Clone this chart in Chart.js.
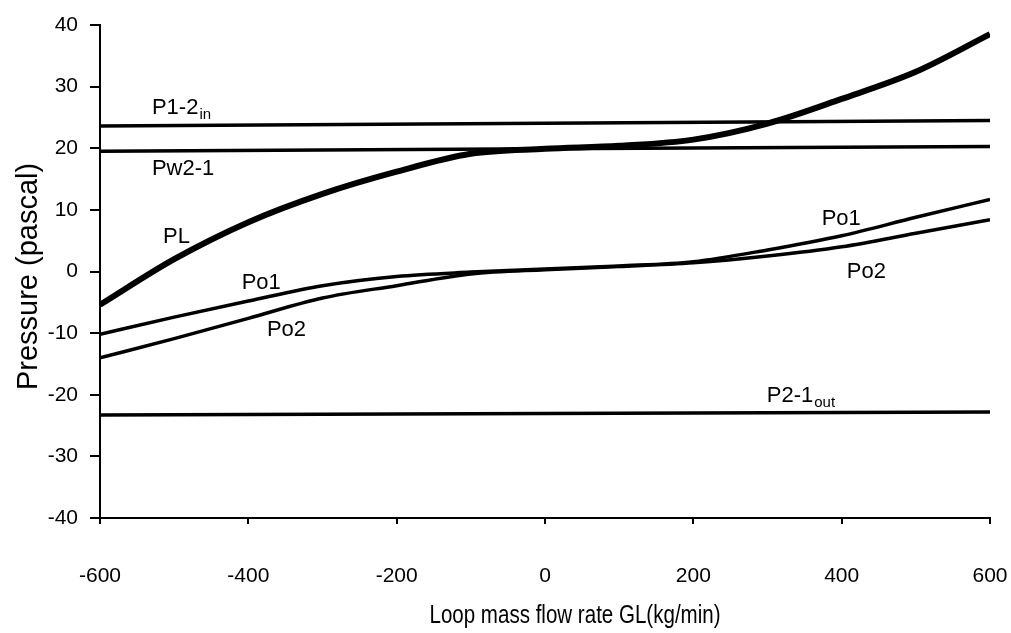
<!DOCTYPE html>
<html>
<head>
<meta charset="utf-8">
<script src="https://cdn.jsdelivr.net/npm/chart.js@4.4.1/dist/chart.umd.min.js"></script>
<style>
  html, body { margin: 0; padding: 0; background: #fff; }
  #wrap { width: 1011px; height: 633px; position: relative; }
</style>
</head>
<body>
<div id="wrap"><canvas id="c" width="1011" height="633"></canvas></div>
<script>
// Loop mass flow rate GL (kg/min)
const flowRate = [-600, -500, -400, -300, -200, -100, 0, 100, 200, 300, 400, 500, 600];

// Pressure (pascal) along the loop
const pL  = [-5.4, 2.0, 8.0, 12.6, 16.2, 19.1, 19.9, 20.4, 21.4, 24.0, 28.0, 32.4, 38.5];
const pO1 = [-10.2, -7.4, -4.8, -2.3, -0.8, -0.1, 0.4, 0.9, 1.6, 3.5, 5.8, 8.8, 11.7];
const pO2 = [-14.0, -10.9, -7.6, -4.3, -2.3, -0.4, 0.3, 0.8, 1.4, 2.5, 4.0, 6.2, 8.4];

// Near-constant pressures, given at both ends of the flow range
const flowEnds = [-600, 600];
const p12in  = [23.6, 24.5];
const pw21   = [19.5, 20.3];
const p21out = [-23.3, -22.8];

// Axis tick values
const xTicks = [-600, -400, -200, 0, 200, 400, 600];
const yTicks = [-40, -30, -20, -10, 0, 10, 20, 30, 40];

const FONT = '"Liberation Sans", Arial, sans-serif';

function pts(xs, ys) { return xs.map((x, i) => ({ x: x, y: ys[i] })); }

function line(label, xs, ys, width) {
  return {
    label: label,
    data: pts(xs, ys),
    borderColor: '#000',
    backgroundColor: '#000',
    borderWidth: width,
    pointRadius: 0,
    cubicInterpolationMode: 'monotone',
    fill: false
  };
}

// Curve names placed next to each curve: [main text, subscript, x, y]
const curveLabels = [
  ['P1-2', 'in', -530, 25.6],
  ['Pw2-1', '', -530, 15.7],
  ['PL', '', -515, 4.7],
  ['Po1', '', -409, -2.9],
  ['Po2', '', -375, -10.5],
  ['Po1', '', 373, 7.6],
  ['Po2', '', 407, -1.0],
  ['P2-1', 'out', 299, -21.1]
];

const labelPlugin = {
  id: 'curveLabels',
  afterDatasetsDraw(chart) {
    const ctx = chart.ctx;
    const xs = chart.scales.x, ys = chart.scales.y;
    ctx.save();
    ctx.fillStyle = '#000';
    ctx.textBaseline = 'alphabetic';
    ctx.textAlign = 'left';
    curveLabels.forEach(([txt, sub, x, y]) => {
      const px = xs.getPixelForValue(x), py = ys.getPixelForValue(y);
      ctx.font = '22px ' + FONT;
      ctx.fillText(txt, px, py);
      if (sub) {
        const w = ctx.measureText(txt).width;
        ctx.font = '15px ' + FONT;
        ctx.fillText(sub, px + w + 1, py + 5);
      }
    });

    // x axis title, set in a condensed face
    ctx.save();
    ctx.textAlign = 'center';
    ctx.translate(575, 622.5);
    ctx.scale(0.79, 1);
    ctx.font = '26px ' + FONT;
    ctx.fillText('Loop mass flow rate GL(kg/min)', 0, 0);
    ctx.restore();

    // y axis title, reading upwards
    ctx.save();
    ctx.textAlign = 'center';
    ctx.translate(36.5, 276.5);
    ctx.rotate(-Math.PI / 2);
    ctx.font = '29px ' + FONT;
    ctx.fillText('Pressure (pascal)', 0, 0);
    ctx.restore();

    ctx.restore();
  }
};

new Chart(document.getElementById('c'), {
  type: 'line',
  data: {
    datasets: [
      line('PL', flowRate, pL, 6),
      line('Po1', flowRate, pO1, 3.5),
      line('Po2', flowRate, pO2, 3.5),
      line('P1-2in', flowEnds, p12in, 3.5),
      line('Pw2-1', flowEnds, pw21, 3.5),
      line('P2-1out', flowEnds, p21out, 3.5)
    ]
  },
  options: {
    responsive: false,
    animation: false,
    devicePixelRatio: 1,
    layout: { padding: { top: 25, right: 21, left: 0, bottom: 0 } },
    plugins: {
      legend: { display: false },
      tooltip: { enabled: false }
    },
    scales: {
      x: {
        type: 'linear',
        min: -600,
        max: 600,
        afterBuildTicks(scale) { scale.ticks = xTicks.map(v => ({ value: v })); },
        afterFit(scale) {
          scale.height = 115;
          // the end labels fit inside the layout padding
          scale.paddingLeft = 0;
          scale.paddingRight = 0;
        },
        grid: {
          drawOnChartArea: false,
          drawTicks: true,
          tickLength: 6,
          color: '#000',
          lineWidth: 2
        },
        border: { display: true, color: '#000', width: 2 },
        ticks: {
          color: '#000',
          padding: 40,
          maxRotation: 0,
          font: { family: FONT, size: 21 }
        },
        title: { display: false }
      },
      y: {
        type: 'linear',
        min: -40,
        max: 40,
        afterBuildTicks(scale) { scale.ticks = yTicks.map(v => ({ value: v })); },
        afterFit(scale) {
          scale.width = 100;
          scale.paddingTop = 0;
          scale.paddingBottom = 0;
        },
        grid: {
          drawOnChartArea: false,
          drawTicks: true,
          tickLength: 10,
          color: '#000',
          lineWidth: 2
        },
        border: { display: true, color: '#000', width: 2 },
        ticks: {
          color: '#000',
          padding: 12,
          font: { family: FONT, size: 21 }
        },
        title: { display: false }
      }
    }
  },
  plugins: [labelPlugin]
});
</script>
</body>
</html>
